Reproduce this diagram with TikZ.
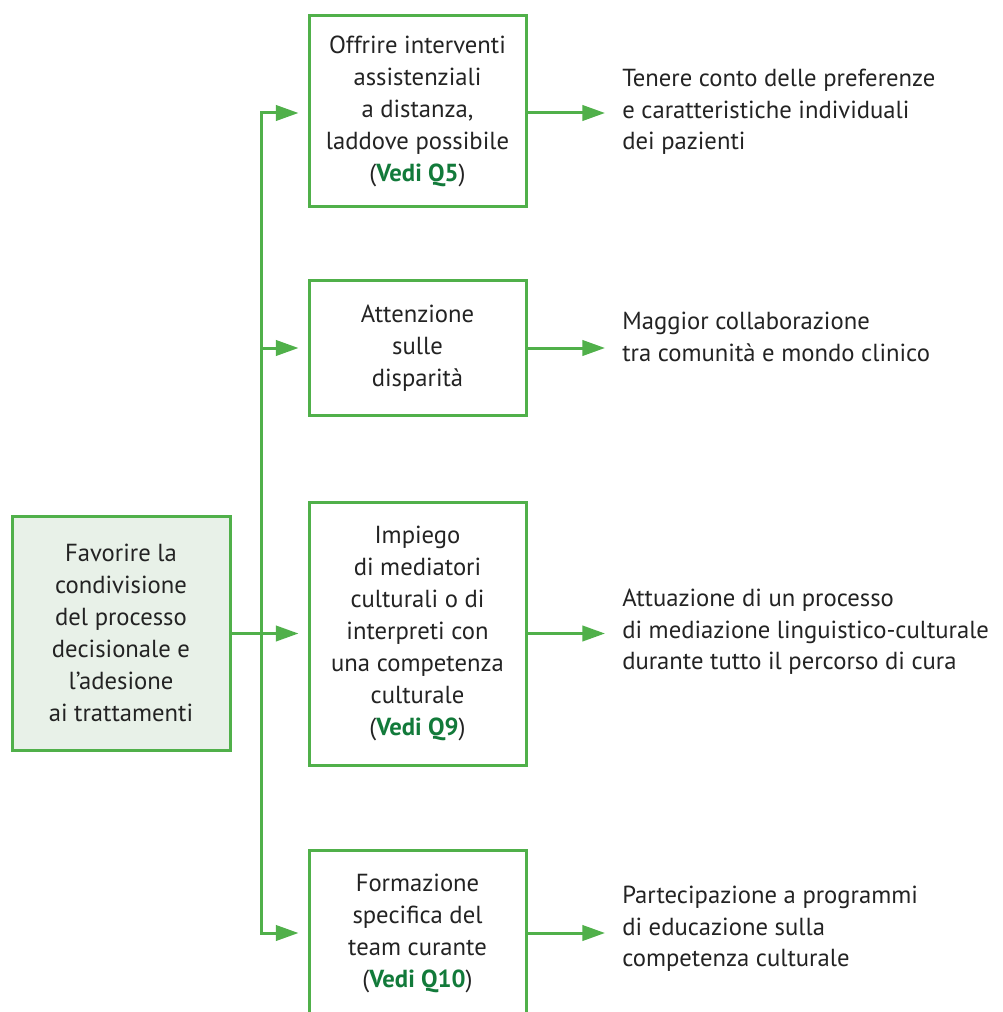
\documentclass[tikz,border=0pt]{standalone}
\usepackage{fontspec}
\setmainfont{PT Sans}
\usetikzlibrary{arrows.meta}
\definecolor{lgreen}{RGB}{80,176,74}
\definecolor{dgreen}{RGB}{18,122,58}
\definecolor{boxfill}{RGB}{232,241,232}
\definecolor{txt}{RGB}{35,35,35}
\newcommand{\vedi}[1]{(\textcolor{dgreen}{\textbf{Vedi #1}})}
\tikzset{
  boxnode/.style={draw=lgreen, line width=2.25pt, align=center, text=txt, minimum width=162.75pt, inner sep=0pt,
    font=\fontsize{18.5}{24}\selectfont},
  outtext/.style={anchor=west, align=left, text=txt, inner sep=0pt, font=\fontsize{18.5}{23.5}\selectfont},
  conn/.style={draw=lgreen, line width=2.25pt},
  arr/.style={conn, -{Triangle[length=17pt,width=11.5pt]}, shorten >=6.75pt},
}
\begin{document}
\begin{tikzpicture}[x=0.75pt,y=-0.75pt]
\clip (0,0) rectangle (1002,1012);
\fill[white] (0,0) rectangle (1002,1012);
% left box
\node[boxnode, fill=boxfill, minimum width=163.5pt, minimum height=175.5pt] (L) at (121,633)
  {Favorire la\\condivisione\\del processo\\decisionale e\\l’adesione\\ai trattamenti};
% middle boxes
\node[boxnode, minimum height=143.25pt] (B1) at (417.5,111.5)
  {Offrire interventi\\assistenziali\\a distanza,\\laddove possibile\\\vedi{Q5}};
\node[boxnode, minimum height=100.5pt] (B2) at (417.5,348)
  {Attenzione\\sulle\\disparità};
\node[boxnode, minimum height=197.25pt] (B3) at (417.5,633.5)
  {Impiego\\di mediatori\\culturali o di\\interpreti con\\una competenza\\culturale\\\vedi{Q9}};
\node[boxnode, minimum height=124.5pt] (B4) at (417.5,933)
  {Formazione\\specifica del\\team curante\\\vedi{Q10}};
% right texts
\node[outtext] (T1) at (622,112) {Tenere conto delle preferenze\\e caratteristiche individuali\\dei pazienti};
\node[outtext] (T2) at (622,337) {Maggior collaborazione\\tra comunità e mondo clinico};
\node[outtext] (T3) at (622,632) {Attuazione di un processo\\di mediazione linguistico-culturale\\durante tutto il percorso di cura};
\node[outtext] (T4) at (622,929) {Partecipazione a programmi\\di educazione sulla\\competenza culturale};
% junctions
\coordinate (J1) at (261,113);
\coordinate (J2) at (261,348);
\coordinate (J3) at (261,633.5);
\coordinate (J4) at (261,933);
\draw[conn, line cap=rect] (J1) -- (J4);
\draw[arr] (J1) -- (J1 -| B1.west);
\draw[arr] (J2) -- (J2 -| B2.west);
\draw[arr] (L.east |- J3) -- (J3 -| B3.west);
\draw[arr] (J4) -- (J4 -| B4.west);
% outputs
\draw[arr, shorten >=0pt] (B1.east |- J1) -- (605,113) coordinate (E1);
\draw[arr, shorten >=0pt] (B2.east) -- (605,348) coordinate (E2);
\draw[arr, shorten >=0pt] (B3.east |- J3) -- (605,633.5) coordinate (E3);
\draw[arr, shorten >=0pt] (B4.east |- J4) -- (605,933) coordinate (E4);
\end{tikzpicture}
\end{document}
